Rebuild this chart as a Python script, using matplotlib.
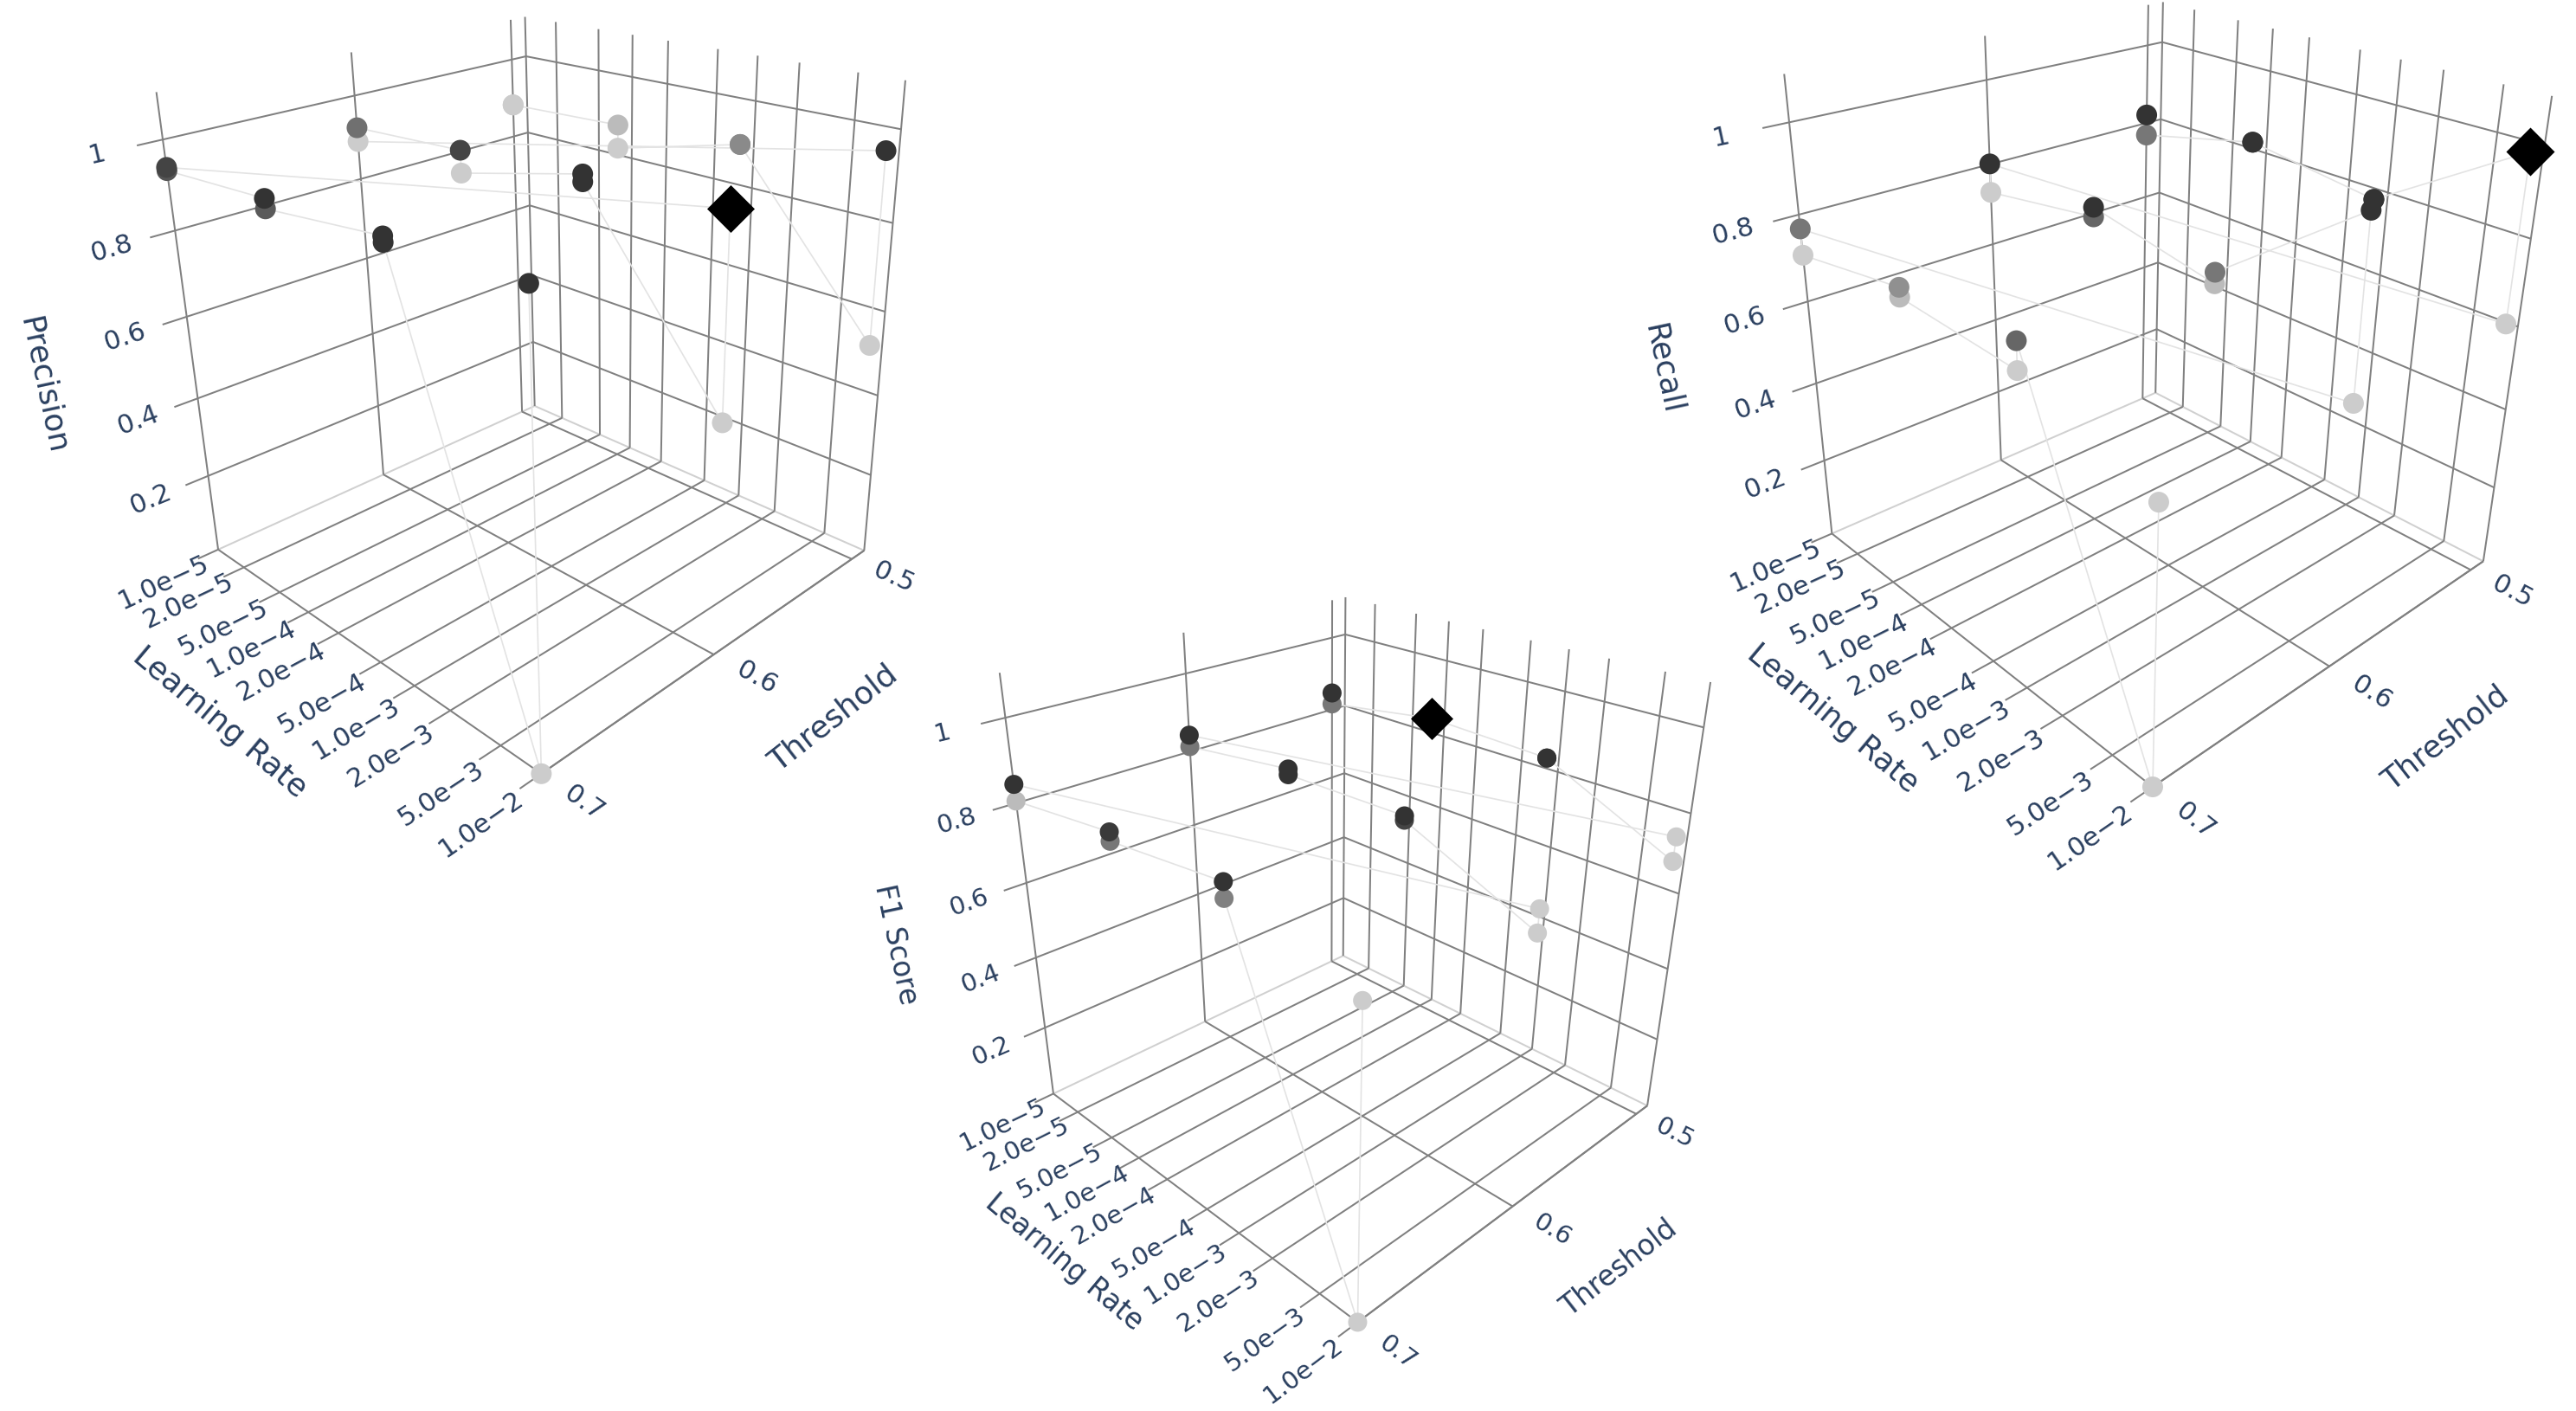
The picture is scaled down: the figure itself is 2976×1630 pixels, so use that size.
import numpy as np
import matplotlib
matplotlib.use('Agg')
import matplotlib.pyplot as plt

W, H = 2976, 1630
TEXT = '#2a3f5f'
GRID = '#808080'
WALL = '#d0d0d0'
LINE = '#e3e3e3'
plt.rcParams['font.family'] = ['DejaVu Sans']

lr_ticks = [1e-5, 2e-5, 5e-5, 1e-4, 2e-4, 5e-4, 1e-3, 2e-3, 5e-3, 1e-2]
lr_labels = ['1.0e\u22125', '2.0e\u22125', '5.0e\u22125', '1.0e\u22124', '2.0e\u22124',
             '5.0e\u22124', '1.0e\u22123', '2.0e\u22123', '5.0e\u22123', '1.0e\u22122']
thr_ticks = [0.5, 0.6, 0.7]
thr_labels = ['0.5', '0.6', '0.7']
metric_ticks = [0.2, 0.4, 0.6, 0.8, 1.0]
metric_labels = ['0.2', '0.4', '0.6', '0.8', '1']

run_lr = [1e-5, 1e-5, 1e-4, 1e-4, 1e-3, 1e-3, 1e-2, 1e-2] * 3
run_thr = [0.5] * 8 + [0.6] * 8 + [0.7] * 8

precision = [0.883, 0.883, 0.893, 0.836, 0.912, 0.912, 0.537, 0.966,
             0.891, 0.924, 0.938, 0.887, 0.958, 0.942, 0.538, 0.967,
             0.940, 0.933, 0.950, 0.929, 0.960, 0.948, 0.000, 0.968]
precision_gray = ['#cccccc', '#cccccc', '#bbbbbb', '#cccccc', '#8a8a8a', '#8a8a8a', '#cccccc', '#333333',
                  '#cccccc', '#707070', '#444444', '#cccccc', '#333333', '#333333', '#cccccc', '#000000',
                  '#444444', '#555555', '#333333', '#5a5a5a', '#333333', '#333333', '#cccccc', '#333333']
precision_best = 15

f1 = [0.847, 0.816, 0.860, 0.860, 0.848, 0.848, 0.698, 0.758,
      0.843, 0.813, 0.851, 0.837, 0.843, 0.833, 0.700, 0.754,
      0.845, 0.805, 0.842, 0.821, 0.854, 0.819, 0.000, 0.753]
f1_gray = ['#333333', '#777777', '#000000', '#000000', '#333333', '#333333', '#cccccc', '#cccccc',
           '#333333', '#777777', '#333333', '#333333', '#333333', '#444444', '#cccccc', '#cccccc',
           '#333333', '#bbbbbb', '#3a3a3a', '#777777', '#333333', '#808080', '#cccccc', '#cccccc']
f1_best = 2

recall = [0.821, 0.768, 0.838, 0.838, 0.796, 0.796, 0.997, 0.622,
          0.801, 0.731, 0.775, 0.797, 0.738, 0.763, 0.998, 0.616,
          0.768, 0.708, 0.755, 0.734, 0.715, 0.774, 0.000, 0.615]
recall_gray = ['#333333', '#777777', '#333333', '#333333', '#333333', '#333333', '#000000', '#cccccc',
               '#333333', '#cccccc', '#666666', '#333333', '#bbbbbb', '#777777', '#333333', '#cccccc',
               '#777777', '#cccccc', '#909090', '#bbbbbb', '#cccccc', '#666666', '#cccccc', '#cccccc']
recall_best = 6

# camera calibration of each 3D scene: (log10 lr, threshold, metric, pixel x, pixel y)
Y0 = 0.49
ZTOP = 1.10
CAM1 = np.array([(-5, Y0, 0, 616.7, 468.3), (-5, Y0, .2, 616, 395), (-5, Y0, .4, 613, 320), (-5, Y0, .6, 611.7, 237.3),
                 (-5, Y0, .8, 610, 153.3), (-5, Y0, 1, 607.5, 63.8), (-5, Y0, ZTOP, 606.8, 19),
                 (-5, .5, 0, 603.3, 475.1), (-5, .5, ZTOP, 591.4, 22.3), (-5, .6, 0, 443.3, 547.2), (-5, .6, ZTOP, 405.5, 61.9),
                 (-5, .7, 0, 252, 633.3), (-5, .7, ZTOP, 180, 106.7), (-5, .7, 1, 188.3, 161.7), (-5, .7, .8, 201.7, 265.7),
                 (-5, .7, .6, 216, 366), (-2, .7, 0, 626.4, 895.5), (-2, .6, 0, 824, 756), (-2, .5, 0, 983, 645),
                 (-2, Y0, 0, 1000, 636.7), (-2, Y0, ZTOP, 1046.7, 93.8), (-2, Y0, 1, 1040, 149.3), (-2, Y0, .8, 1031.7, 256.7),
                 (-2, Y0, .6, 1022.7, 359.3), (-2, Y0, .4, 1013.3, 456.7), (-2, Y0, .2, 1004.6, 547),
                 (-4, Y0, 0, 728.2, 519.8), (-3, Y0, 0, 854.4, 572.7)], float)
CAM2 = np.array([(-5, Y0, 0, 1551.6, 1104.9), (-5, Y0, .2, 1552.3, 1038.3), (-5, Y0, .4, 1552.7, 968.3), (-5, Y0, .6, 1553.3, 895),
                 (-5, Y0, .8, 1553.3, 816), (-5, Y0, 1, 1553.6, 735.6), (-5, Y0, ZTOP, 1552.6, 683),
                 (-5, .5, 0, 1538.9, 1110.2), (-5, .6, 0, 1392.2, 1179), (-5, .6, ZTOP, 1368.6, 732.6),
                 (-5, .7, 0, 1216.8, 1263.1), (-5, .7, ZTOP, 1156.2, 777), (-5, .7, 1, 1161.7, 830), (-5, .7, .8, 1173.3, 925.7),
                 (-5, .7, .6, 1186, 1019.3), (-2, .7, 0, 1567.6, 1529.9), (-2, .6, 0, 1746.2, 1393.6), (-2, .5, 0, 1889.6, 1283.9),
                 (-2, Y0, 0, 1904.3, 1276.8), (-2, Y0, ZTOP, 1976, 790), (-2, Y0, 1, 1967.7, 841), (-2, Y0, .8, 1954, 939.3),
                 (-2, Y0, .6, 1940, 1032.3), (-2, Y0, .4, 1927.3, 1119), (-2, Y0, .2, 1915, 1200.7)], float)
CAM3 = np.array([(-5, Y0, 0, 2490, 453.3), (-5, Y0, .2, 2491.7, 381.7), (-5, Y0, .4, 2493.3, 304), (-5, Y0, .6, 2495, 222.7),
                 (-5, Y0, .8, 2496.7, 137.7), (-5, Y0, 1, 2497.9, 47.8), (-5, .5, 0, 2475.7, 460), (-5, .6, 0, 2311.3, 530.6),
                 (-5, .6, ZTOP, 2292.4, 41.5), (-5, .7, 0, 2116.2, 615.4), (-5, .7, ZTOP, 2061.7, 86.1), (-5, .7, 1, 2066.7, 140.7),
                 (-5, .7, .8, 2078.3, 248.3), (-5, .7, .6, 2088.3, 348.3), (-5, .7, .4, 2098.3, 443.3),
                 (-2, .7, 0, 2488.1, 908.8), (-2, .6, 0, 2690.8, 771.7), (-2, .5, 0, 2853.7, 656.9), (-2, Y0, 0, 2869, 649.2),
                 (-2, Y0, ZTOP, 2948.3, 112), (-2, Y0, .8, 2923.3, 275.9), (-2, Y0, .6, 2909.3, 374), (-2, Y0, .4, 2895, 473.4),
                 (-2, Y0, .2, 2881, 563.8)], float)


def fit_camera(c):
    X, U = c[:, :3], c[:, 3:5]
    Tx = np.diag([1 / 1.5, 1 / .1, 1 / .55, 1.])
    Tx[:3, 3] = [3.5 / 1.5, -.6 / .1, -1.]
    m = U.mean(0)
    Tu = np.array([[1 / 500, 0, -m[0] / 500], [0, 1 / 500, -m[1] / 500], [0, 0, 1]])
    Xh = (Tx @ np.c_[X, np.ones(len(X))].T).T
    Uh = (Tu @ np.c_[U, np.ones(len(U))].T).T
    A = []
    for x, u in zip(Xh, Uh):
        A.append(np.r_[x, 0 * x, -u[0] * x])
        A.append(np.r_[0 * x, x, -u[1] * x])
    P = np.linalg.svd(np.array(A))[2][-1].reshape(3, 4)
    P = np.linalg.inv(Tu) @ P @ Tx
    return P / (P[2] @ np.array([-3.5, .6, .5, 1]))


fig = plt.figure(figsize=(W / 100, H / 100), dpi=100, facecolor='white')


def scene(cam, values, grays, best, circle_px, diamond_px, ztitle, ztitle_xy, lr_xy, thr_xy, tick_size, title_size):
    ax = fig.add_axes([0.2, 0, H / W, 1], projection='3d', computed_zorder=False)
    ax.set_axis_off()
    ax.patch.set_visible(False)
    P = fit_camera(cam)

    def get_proj():
        T = np.linalg.inv(ax.transData.get_affine().get_matrix())
        flip = np.array([[1, 0, 0], [0, -1, H], [0, 0, 1.]])
        Pv = T @ flip @ P
        return np.vstack([Pv[0], Pv[1], [0, 0, -1, 0], Pv[2]])
    ax.get_proj = get_proj

    def project(x, y, z):
        q = P @ np.array([x, y, z, 1.])
        return q[:2] / q[2]

    def label(x, y, z, tangent, s):
        a = project(x, y, z)
        b = project(x + tangent[0], y + tangent[1], z + tangent[2])
        rot = np.degrees(np.arctan2(-(b[1] - a[1]), b[0] - a[0]))
        ax.text2D(a[0] / W, 1 - a[1] / H, s, transform=fig.transFigure, color=TEXT, fontsize=tick_size,
                  rotation=rot, ha='center', va='center', rotation_mode='anchor')

    def title(xy, s, rot):
        ax.text2D(xy[0] / W, 1 - xy[1] / H, s, transform=fig.transFigure, color=TEXT, fontsize=title_size,
                  rotation=rot, ha='center', va='center', rotation_mode='anchor')

    xs = np.log10(lr_ticks)
    xmin, xmax = xs[0], xs[-1]
    ymin, ymax = Y0, thr_ticks[-1]

    def seg(x, y, z, color=GRID, lw=1.45, zo=1):
        ax.plot(x, y, z, color=color, lw=lw, zorder=zo, clip_on=False, solid_capstyle='butt')

    seg([xmin, xmin], [ymin, ymax], [0, 0], color=WALL)
    seg([xmin, xmax], [ymin, ymin], [0, 0], color=WALL)
    seg([xmin, xmin], [ymax, ymax + .011], [0, 0])
    for x in xs[1:]:
        seg([x, x], [ymin, ymax + .011], [0, 0])
    for y in thr_ticks:
        seg([xmin, xmax], [y, y], [0, 0])
    seg([xmax, xmax], [ymin, ymax], [0, 0])
    for y in thr_ticks:
        seg([xmin, xmin], [y, y], [0, ZTOP])
    for x in xs:
        seg([x, x], [ymin, ymin], [0, ZTOP])
    for z in metric_ticks:
        seg([xmin, xmin], [ymin, ymax + .012], [z, z])
        seg([xmin, xmax], [ymin, ymin], [z, z])

    for x, s in zip(xs, lr_labels):
        label(x, ymax + .03, -.02, (0, -.05, 0), s)
    for y, s in zip(thr_ticks, thr_labels):
        label(xmax + .3, y, 0, (.3, 0, 0), s)
    for z, s in zip(metric_ticks, metric_labels):
        label(xmin, ymax + .03, z, (0, -.05, 0), s)

    title(ztitle_xy, ztitle, -78)
    title(lr_xy, 'Learning Rate', -40)
    title(thr_xy, 'Threshold', 38)

    lx = np.log10(run_lr)
    ty = np.array(run_thr)
    mz = np.array(values)
    ax.plot(lx, ty, mz, color=LINE, lw=1.2, zorder=2, clip_on=False)
    keep = np.ones(len(lx), bool)
    keep[best] = False
    ax.scatter(lx[keep], ty[keep], mz[keep], s=(circle_px * .72) ** 2,
               c=[g for g, k in zip(grays, keep) if k], marker='o', linewidths=0, depthshade=False, zorder=3, clip_on=False)
    ax.scatter(lx[[best]], ty[[best]], mz[[best]], s=(diamond_px * .72) ** 2 / 2, c='black', marker='D', linewidths=0,
               depthshade=False, zorder=4, clip_on=False)


scene(CAM1, precision, precision_gray, precision_best, 24, 55, 'Precision', (50, 446), (254, 835), (963, 830), 22, 26)
scene(CAM2, f1, f1_gray, f1_best, 22, 49, 'F1 Score', (1035, 1091), (1229, 1458), (1870, 1465), 21, 23.5)
scene(CAM3, recall, recall_gray, recall_best, 24, 56, 'Recall', (1921, 427), (2117, 830), (2825, 853), 22, 25.5)

fig.savefig('out.png', dpi=100, facecolor='white')
